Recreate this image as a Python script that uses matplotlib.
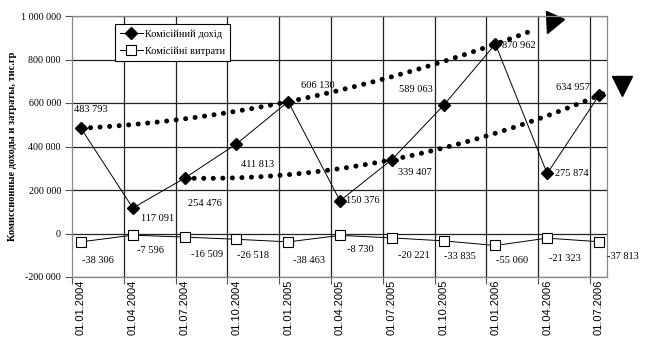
import numpy as np
import matplotlib
matplotlib.use("Agg")
import matplotlib.pyplot as plt
from matplotlib.markers import MarkerStyle
from matplotlib.transforms import Affine2D

# quarterly data
dates = ["01.01.2004", "01.04.2004", "01.07.2004", "01.10.2004", "01.01.2005",
         "01.04.2005", "01.07.2005", "01.10.2005", "01.01.2006", "01.04.2006",
         "01.07.2006"]
income = [483793, 117091, 254476, 411813, 606130, 150376, 339407, 589063,
          870962, 275874, 634957]
expenses = [-38306, -7596, -16509, -26518, -38463, -8730, -20221, -33835,
            -55060, -21323, -37813]

# label offsets in pixels (dx, dy)
inc_off = [(10, 19), (25, -10), (20, -25), (21, -21), (30, 16), (23, 0),
           (23, -13), (-28, 16), (23, -1), (25, 0), (-26, 8)]
exp_off = [(17, -19), (18, -15), (22, -17), (17, -16), (21, -19), (20, -14),
           (22, -18), (16, -16), (17, -15), (18, -20), (24, -15)]

serif = "Liberation Serif"
sans = "Liberation Sans"

fig = plt.figure(figsize=(6.45, 3.58), dpi=100)
ax = fig.add_axes([72 / 645, 81 / 358, 535 / 645, 261 / 358])

x = np.arange(len(dates))

# polynomial trend lines (Excel style) through January and July values
def trend(idx, x0, x1):
    c = np.polyfit(x[idx], np.array(income)[idx], 2)
    xs = np.linspace(x0, x1, 200)
    return xs, np.polyval(c, xs), c

dotted = dict(color="black", lw=3.6, linestyle=(0, (0.01, 1.9)),
              dash_capstyle="round", zorder=2, clip_on=False)
xs, ys, c1 = trend([0, 4, 8], 0, 8.75)
ax.plot(xs, ys, **dotted)
ax.plot([9.07], [np.polyval(c1, 9.07) - 5000],
        marker=MarkerStyle("v", transform=Affine2D().rotate_deg(-22)),
        ms=14, color="black", clip_on=False, zorder=1.5)
xs, ys, c2 = trend([2, 6, 10], 2, 10.2)
ax.plot(xs, ys, **dotted)
ax.plot([10.44], [np.polyval(c2, 10.44)], marker="v", ms=15,
        color="black", clip_on=False, zorder=4)

ax.plot(x, income, color="black", lw=0.7, marker="D", ms=6, mfc="black",
        mec="black", label="Комісійний дохід", zorder=5, clip_on=False)
ax.plot(x, expenses, color="black", lw=0.7, marker="s", ms=6.5, mfc="white",
        mec="black", mew=0.8, label="Комісійні витрати", zorder=5, clip_on=False)

def fmt(v):
    return "{:,}".format(v).replace(",", " ")

for i in range(len(x)):
    ax.annotate(fmt(income[i]), (x[i], income[i]), xytext=inc_off[i],
                textcoords="offset pixels", ha="center", va="center",
                fontsize=7.5, family=serif, zorder=6, annotation_clip=False)
    ax.annotate(fmt(expenses[i]), (x[i], expenses[i]), xytext=exp_off[i],
                textcoords="offset pixels", ha="center", va="center",
                fontsize=7.5, family=serif, zorder=6, annotation_clip=False)

ax.set_xlim(-0.174, 10.155)
ax.set_ylim(-200000, 1000000)

# grid
yt = np.arange(-200000, 1000001, 200000)
for v in yt:
    ax.axhline(v, color="#222222", lw=0.9, zorder=1)
grid_x = x - 0.174
for g in grid_x[1:]:
    ax.axvline(g, color="#222222", lw=0.9, zorder=1)

for s in ax.spines.values():
    s.set_color("#888888")
    s.set_linewidth(0.9)

ax.set_yticks(yt)
ax.set_yticklabels([fmt(v) for v in yt], family=serif, fontsize=7.2)
ax.tick_params(axis="y", length=5, width=0.8, color="#555555", pad=3)

ax.set_xticks(x)
ax.set_xticklabels(dates, rotation=90, family=sans, fontsize=8)
ax.tick_params(axis="x", which="major", length=0, pad=2)
ax.set_xticks(grid_x, minor=True)
ax.tick_params(axis="x", which="minor", length=5, width=0.8, color="#555555")

ax.set_ylabel("Комиссионные доходы и затраты, тис.гр", family=serif,
              fontsize=7.5, fontweight="bold", labelpad=3)

leg = ax.legend(loc="upper left", bbox_to_anchor=(0.08, 0.968),
                prop={"family": serif, "size": 7.5}, fancybox=False,
                framealpha=1, edgecolor="black", borderpad=0.5,
                handlelength=2.2, handletextpad=0.2, labelspacing=0.7,
                borderaxespad=0)
leg.get_frame().set_linewidth(0.8)
leg.set_zorder(10)

fig.savefig("out.png", dpi=100)
